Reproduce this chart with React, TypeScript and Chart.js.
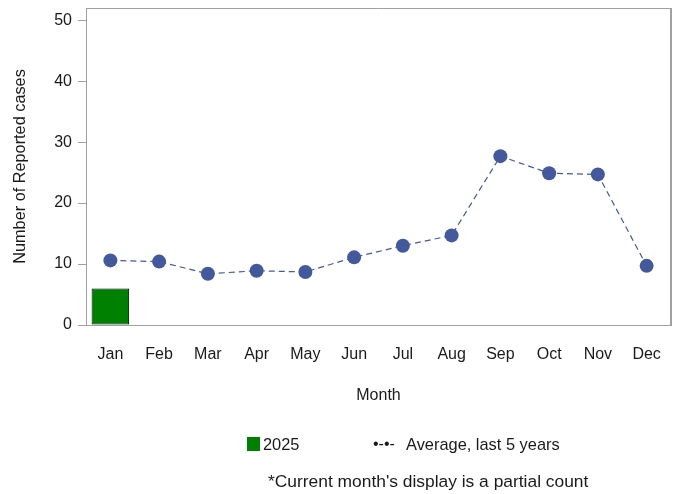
import React, { useEffect, useRef } from "react";
import { Chart, registerables } from "chart.js";

Chart.register(...registerables);

const months = ["Jan", "Feb", "Mar", "Apr", "May", "Jun", "Jul", "Aug", "Sep", "Oct", "Nov", "Dec"];
const current2025 = [6, null, null, null, null, null, null, null, null, null, null, null];
const avgLast5 = [10.6, 10.4, 8.4, 8.9, 8.7, 11.1, 13.0, 14.7, 27.7, 24.9, 24.7, 9.7];
const yTicks = [0, 10, 20, 30, 40, 50];

const FONT = "'Liberation Sans', Arial, Helvetica, sans-serif";
const TEXT = "#1a1a1a";
const AXIS = "#a0a0a0";
const POINT = "#43599b";

const boxPlugin = {
  id: "plotBox",
  afterDraw(chart: any) {
    const { ctx, chartArea } = chart;
    const { left, top, right, bottom } = chartArea;
    ctx.save();
    ctx.strokeStyle = AXIS;
    ctx.lineWidth = 1;
    ctx.beginPath();
    ctx.moveTo(Math.round(left) + 0.5, Math.round(top) + 0.5);
    ctx.lineTo(Math.round(right), Math.round(top) + 0.5);
    ctx.stroke();
    ctx.lineWidth = 2;
    ctx.beginPath();
    ctx.moveTo(Math.round(right), Math.round(top));
    ctx.lineTo(Math.round(right), Math.round(bottom) + 1);
    ctx.stroke();
    ctx.restore();
  },
};

export default function App() {
  const ref = useRef<HTMLCanvasElement>(null);

  useEffect(() => {
    if (!ref.current) return;
    const chart = new Chart(ref.current, {
      type: "bar",
      data: {
        labels: months,
        datasets: [
          {
            type: "line",
            label: "Average, last 5 years",
            data: avgLast5,
            borderColor: POINT,
            backgroundColor: POINT,
            borderWidth: 1.2,
            borderDash: [6, 4],
            pointRadius: 7,
            pointHoverRadius: 7,
            pointBackgroundColor: POINT,
            pointBorderColor: POINT,
            pointBorderWidth: 0,
            tension: 0,
            order: 0,
          } as any,
          {
            type: "bar",
            label: "2025",
            data: current2025,
            backgroundColor: "#008000",
            borderColor: "#000000",
            borderWidth: 1,
            borderSkipped: false,
            barPercentage: 0.77,
            categoryPercentage: 1,
            order: 1,
          } as any,
        ],
      },
      options: {
        responsive: false,
        animation: false,
        layout: { padding: { left: 11, top: 8, right: 7, bottom: 89 } },
        plugins: {
          legend: { display: false },
          tooltip: { enabled: false },
        },
        scales: {
          x: {
            offset: true,
            grid: { display: false, drawTicks: false },
            border: { display: true, color: AXIS, width: 1 },
            ticks: {
              color: TEXT,
              font: { family: FONT, size: 16 },
              padding: 20,
              maxRotation: 0,
              autoSkip: false,
            },
            title: {
              display: true,
              text: "Month",
              color: TEXT,
              font: { family: FONT, size: 16 },
              padding: 0,
            },
            afterFit(scale: any) {
              scale.height = 80;
              scale.paddingLeft = 0;
              scale.paddingRight = 0;
            },
          },
          y: {
            min: 0,
            max: 52,
            grid: {
              display: true,
              drawOnChartArea: false,
              drawTicks: true,
              tickLength: 8,
              color: AXIS,
            },
            border: { display: true, color: AXIS, width: 1 },
            ticks: {
              color: TEXT,
              font: { family: FONT, size: 16 },
              padding: 6,
              stepSize: 10,
            },
            afterBuildTicks(scale: any) {
              scale.ticks = yTicks.map((v) => ({ value: v }));
            },
            title: {
              display: true,
              text: "Number of Reported cases",
              color: TEXT,
              font: { family: FONT, size: 16.3 },
              padding: 0,
            },
            afterFit(scale: any) {
              scale.width = 75;
              scale.paddingTop = 0;
              scale.paddingBottom = 0;
            },
          },
        },
      },
      plugins: [boxPlugin],
    });
    return () => chart.destroy();
  }, []);

  const textStyle: React.CSSProperties = {
    position: "absolute",
    fontFamily: FONT,
    fontSize: 16.4,
    lineHeight: "20px",
    color: TEXT,
    whiteSpace: "nowrap",
  };

  return (
    <div style={{ position: "fixed", left: 0, top: 0, width: 678, height: 494, background: "#fff" }}>
      <canvas ref={ref} width={678} height={494} style={{ width: 678, height: 494, display: "block" }} />
      <div style={{ position: "absolute", left: 247, top: 437, width: 13, height: 14, background: "#008000" }} />
      <span style={{ ...textStyle, left: 263, top: 434 }}>2025</span>
      <span style={{ ...textStyle, left: 373, top: 434, fontSize: 16 }}>•-•-</span>
      <span style={{ ...textStyle, left: 406, top: 434 }}>Average, last 5 years</span>
      <span style={{ ...textStyle, left: 268, top: 471, fontSize: 17.4 }}>*Current month's display is a partial count</span>
    </div>
  );
}
